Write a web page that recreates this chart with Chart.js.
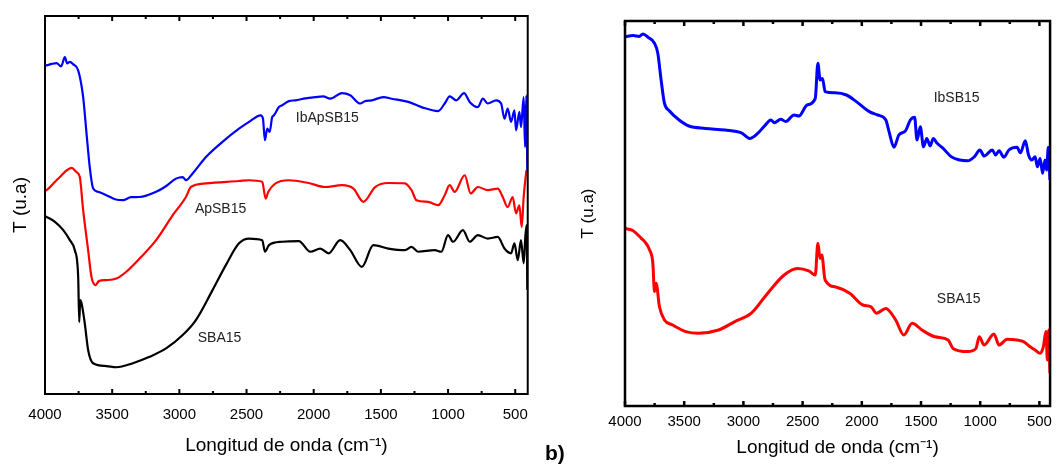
<!DOCTYPE html>
<html>
<head>
<meta charset="utf-8">
<script src="https://cdn.jsdelivr.net/npm/chart.js@4.4.1/dist/chart.umd.min.js"></script>
<style>
  body { margin: 0; background: #fff; }
  .panel { position: absolute; top: 0; height: 464px; }
  #left { left: 0; width: 540px; }
  #right { left: 560px; width: 499px; }
  #tag { position: absolute; left: 545px; top: 442px; font: bold 21px "Liberation Sans", Arial, sans-serif; line-height: 1; }
</style>
</head>
<body>
<div class="panel" id="left"><canvas id="chartA"></canvas></div>
<div class="panel" id="right"><canvas id="chartB"></canvas></div>
<div id="tag">b)</div>
<script>
const xTicks = [4000, 3500, 3000, 2500, 2000, 1500, 1000, 500]
const xMinorTicks = [3750, 3250, 2750, 2250, 1750, 1250, 750]

// left panel: [wavenumber, T (u.a)]
const ibApSB15 = [
  [4000, 82.2], [3988, 82.25], [3950, 82.6], [3914, 82.8], [3880, 82.0], [3852, 84.3], [3835, 82.75], [3815, 83.1],
  [3790, 82.5], [3753, 81], [3716, 74.3], [3691, 65.25], [3667, 56.8], [3642, 51.5], [3605, 50.6], [3543, 49.75],
  [3480, 48.75], [3420, 48.5], [3360, 49.25], [3296, 49.3], [3173, 50.6], [3100, 52], [3025, 53.9], [2975, 54.3],
  [2951, 53.5], [2901, 55.2], [2802, 59.3], [2679, 63.1], [2556, 66.4], [2481, 68.1], [2395, 69.75], [2378, 69],
  [2363, 63.5], [2346, 66.4], [2328, 65.6], [2309, 69.3], [2296, 69.75], [2259, 71.8], [2235, 72.25], [2185, 73.3],
  [2136, 73.5], [2060, 74], [1988, 74.3], [1930, 74.5], [1877, 73.9], [1790, 75.3], [1728, 74.75], [1654, 72.7],
  [1620, 73.25], [1568, 73.5], [1481, 74.3], [1420, 73.9], [1296, 73.1], [1198, 71.8], [1074, 70.8], [1025, 72.7],
  [988, 74.5], [938, 73.5], [881, 75.3], [839, 73.1], [778, 71.8], [741, 73.9], [704, 72.7], [642, 73.5],
  [605, 72.7], [580, 68.9], [556, 71.4], [531, 68.1], [506, 71], [494, 66], [469, 70.6], [457, 66.8],
  [437, 74.3], [427, 61.8], [417, 74.75], [410, 56]
]
const apSB15 = [
  [4000, 50.8], [3988, 51], [3914, 53.5], [3889, 54.3], [3852, 55.6], [3802, 56.6], [3765, 55.5], [3741, 54.3],
  [3716, 46], [3679, 36], [3654, 29.3], [3622, 27.25], [3600, 28.25], [3543, 28.5], [3469, 28.9], [3395, 30.6],
  [3296, 33.9], [3173, 38.5], [3049, 44.75], [2951, 49.3], [2914, 51.8], [2802, 52.7], [2556, 53.3], [2481, 53.5],
  [2383, 53.1], [2358, 48.9], [2338, 50.6], [2284, 52.7], [2185, 53.5], [2037, 52.8], [1914, 51.8], [1790, 52.25],
  [1704, 51.4], [1630, 48.1], [1543, 51.8], [1444, 52.8], [1321, 52.7], [1272, 51], [1235, 48.5], [1148, 48.1],
  [1074, 47.25], [1025, 49.75], [988, 52.25], [951, 50.6], [876, 54.75], [832, 50.2], [778, 51.8], [704, 51],
  [630, 51.4], [593, 49.3], [556, 46.8], [519, 49.3], [494, 45.2], [469, 47.2], [452, 41.8], [437, 49.3], [417, 56]
]
const sba15A = [
  [4000, 44.5], [3988, 44.3], [3926, 43.1], [3864, 41], [3815, 38.5], [3778, 36], [3753, 29.3], [3745, 18],
  [3738, 23.5], [3728, 22.7], [3704, 17.7], [3679, 11], [3642, 7.7], [3543, 7], [3469, 6.7], [3346, 7.7],
  [3222, 9.3], [3099, 11.4], [2975, 14.75], [2877, 18.5], [2753, 26], [2654, 32.25], [2556, 37.7], [2481, 38.9],
  [2383, 38.5], [2363, 35.6], [2333, 37.25], [2235, 38.1], [2111, 38.25], [2025, 35.6], [1951, 36.4], [1889, 35.2],
  [1803, 38.5], [1728, 36], [1642, 31.8], [1556, 37.25], [1444, 36.4], [1321, 36], [1272, 36.8], [1223, 35.6],
  [1099, 36], [1050, 35.6], [1000, 39.75], [963, 38.1], [889, 41], [839, 38.1], [778, 39.75], [704, 38.9],
  [630, 39.3], [580, 36.4], [531, 35.2], [506, 37.7], [481, 33.5], [457, 38.5], [437, 32.7], [425, 39.3],
  [415, 42.25], [410, 26]
]

// right panel
const ibSB15 = [
  [4000, 92.3], [3931, 92.6], [3880, 92.4], [3848, 93], [3806, 92.2], [3751, 90.7], [3723, 88.2], [3695, 81.5],
  [3667, 75.7], [3626, 73.8], [3543, 71.5], [3460, 70], [3321, 69.4], [3155, 69], [3017, 68.3], [2947, 66.9],
  [2878, 68.2], [2822, 70], [2767, 71.5], [2739, 70.8], [2684, 71.7], [2642, 71.1], [2573, 72.75], [2531, 72.5],
  [2462, 75.25], [2393, 76.9], [2371, 85.7], [2352, 81.5], [2332, 81.9], [2310, 78.6], [2227, 78.3], [2130, 77.75],
  [2046, 76.1], [1936, 73.6], [1866, 72.75], [1797, 71.5], [1770, 68.6], [1728, 64.7], [1687, 67.75], [1631, 68.8],
  [1590, 71.5], [1554, 72.2], [1534, 66.5], [1506, 69.8], [1479, 64.8], [1451, 66.9], [1423, 65], [1396, 66.9],
  [1368, 65.8], [1313, 64.4], [1244, 62.3], [1105, 61.3], [1050, 62.3], [1002, 64], [967, 62.5], [898, 64],
  [870, 62.75], [841, 63.8], [800, 62.2], [758, 64], [689, 64.7], [661, 63.3], [619, 66.3], [592, 62.75],
  [564, 61.5], [536, 62.3], [517, 59.8], [494, 61.9], [473, 58.2], [453, 61.5], [439, 59], [425, 64.7], [411, 56.5]
]
const sba15B = [
  [4000, 44.4], [3931, 43.8], [3862, 41.9], [3834, 41.1], [3792, 39], [3765, 35.7], [3751, 28.6], [3737, 30.7],
  [3709, 24.8], [3667, 21.5], [3598, 20.25], [3487, 18.6], [3376, 18.2], [3210, 19], [3072, 21.1], [2933, 23.2],
  [2795, 28.2], [2656, 32.75], [2545, 34.4], [2448, 33.8], [2393, 32.75], [2371, 40.7], [2352, 36.9], [2338, 37.75],
  [2310, 31.5], [2213, 29.7], [2102, 28.2], [1991, 25.25], [1922, 24.8], [1875, 23.2], [1797, 24.4], [1714, 21.5],
  [1645, 17.75], [1575, 20.7], [1492, 19], [1382, 17.3], [1271, 16.5], [1230, 14.4], [1105, 13.6], [1036, 14.4],
  [1008, 17.3], [967, 15.25], [884, 18], [841, 15.25], [772, 16.7], [689, 16.5], [634, 16.1], [578, 14.8],
  [536, 14], [494, 13.2], [467, 14.8], [445, 18.6], [433, 11.5], [422, 19], [411, 8.2]
]

// curve names, anchored in data units
const leftNames = [
  { text: 'IbApSB15', x: 1899, y: 69 },
  { text: 'ApSB15', x: 2693, y: 46.25 },
  { text: 'SBA15', x: 2701, y: 14 }
]
const rightNames = [
  { text: 'IbSB15', x: 1199, y: 77 },
  { text: 'SBA15', x: 1182, y: 26.75 }
]

const fontFamily = '"Liberation Sans", Arial, sans-serif'

const framePlugin = {
  id: 'frame',
  afterDatasetsDraw(chart, args, opts) {
    const { ctx, chartArea: a } = chart
    const x = chart.scales.x
    const y = chart.scales.y
    ctx.save()
    ctx.strokeStyle = '#000'
    ctx.lineWidth = opts.width
    ctx.strokeRect(a.left, a.top, a.right - a.left, a.bottom - a.top)
    const tick = (v, len) => {
      const px = x.getPixelForValue(v)
      ctx.beginPath()
      ctx.moveTo(px, a.bottom)
      ctx.lineTo(px, a.bottom - len)
      ctx.moveTo(px, a.top)
      ctx.lineTo(px, a.top + len)
      ctx.stroke()
    }
    xTicks.forEach(v => tick(v, 5))
    xMinorTicks.forEach(v => tick(v, 3))
    ctx.fillStyle = '#222'
    ctx.font = `14px ${fontFamily}`
    ctx.textAlign = 'center'
    ctx.textBaseline = 'middle'
    opts.names.forEach(n => ctx.fillText(n.text, x.getPixelForValue(n.x), y.getPixelForValue(n.y)))
    ctx.restore()
  }
}

const makeChart = (id, series, cfg) => new Chart(document.getElementById(id), {
  type: 'line',
  data: {
    datasets: series.map(s => ({
      data: s.points.map(p => ({ x: p[0], y: p[1] })),
      borderColor: s.color,
      borderWidth: cfg.lineWidth,
      pointRadius: 0,
      cubicInterpolationMode: 'monotone',
      borderJoinStyle: 'round'
    }))
  },
  options: {
    responsive: true,
    maintainAspectRatio: false,
    animation: false,
    layout: { autoPadding: false, padding: cfg.padding },
    plugins: {
      legend: { display: false },
      tooltip: { enabled: false },
      frame: { names: cfg.names, width: cfg.frameWidth }
    },
    scales: {
      x: {
        type: 'linear',
        reverse: true,
        min: cfg.xMin,
        max: 4000,
        grid: { display: false, drawTicks: false },
        border: { display: false },
        afterBuildTicks: s => { s.ticks = xTicks.map(v => ({ value: v })) },
        afterFit: s => { s.height = cfg.xAxisHeight },
        ticks: { color: '#000', font: { family: fontFamily, size: 15 }, padding: cfg.tickPad, maxRotation: 0, autoSkip: false, callback: v => String(v) },
        title: { display: true, text: 'Longitud de onda (cm⁻¹)', color: '#000', font: { family: fontFamily, size: 19 }, padding: { top: 0, bottom: cfg.titlePad } }
      },
      y: {
        min: 0,
        max: cfg.yMax,
        grid: { display: false },
        border: { display: false },
        ticks: { display: false },
        afterFit: s => { s.width = cfg.yAxisWidth },
        title: { display: true, text: 'T (u.a)', color: '#000', font: { family: fontFamily, size: cfg.yTitleSize }, padding: { top: cfg.yTitlePad, bottom: 0 } }
      }
    }
  },
  plugins: [framePlugin]
})

makeChart('chartA', [
  { points: sba15A, color: '#000000' },
  { points: apSB15, color: '#ff0000' },
  { points: ibApSB15, color: '#0000ff' }
], {
  names: leftNames, lineWidth: 2.2, frameWidth: 2, xMin: 407, yMax: 94.6,
  padding: { top: 16, right: 10, bottom: 0, left: 0 },
  xAxisHeight: 70, yAxisWidth: 45, tickPad: 12, titlePad: 6.6, yTitleSize: 19, yTitlePad: 9
})

makeChart('chartB', [
  { points: sba15B, color: '#ff0000' },
  { points: ibSB15, color: '#0000ff' }
], {
  names: rightNames, lineWidth: 3, frameWidth: 2.5, xMin: 410, yMax: 96.25,
  padding: { top: 21, right: 3, bottom: 0, left: 0 },
  xAxisHeight: 58, yAxisWidth: 65, tickPad: 7, titlePad: 4.6, yTitleSize: 17, yTitlePad: 17.8
})
</script>
</body>
</html>
